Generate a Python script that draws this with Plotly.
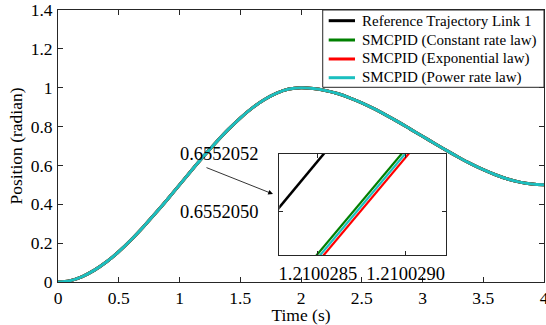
import plotly.graph_objects as go

# ---- data ----
time_s = [0.0, 0.1, 0.2, 0.3, 0.4, 0.5, 0.6, 0.7, 0.8, 0.9, 1.0,
          1.1, 1.2, 1.3, 1.4, 1.5, 1.6, 1.7, 1.8, 1.9, 2.0,
          2.1, 2.2, 2.3, 2.4, 2.5, 2.6, 2.7, 2.8, 2.9, 3.0,
          3.1, 3.2, 3.3, 3.4, 3.5, 3.6, 3.7, 3.8, 3.9, 4.0]
reference_pos = [0.0, 0.007, 0.028, 0.061, 0.104, 0.156, 0.216, 0.282, 0.352, 0.425, 0.500,
                 0.575, 0.648, 0.718, 0.784, 0.844, 0.896, 0.939, 0.972, 0.993, 1.000,
                 0.996, 0.986, 0.970, 0.948, 0.922, 0.892, 0.859, 0.824, 0.787, 0.750,
                 0.713, 0.676, 0.641, 0.608, 0.578, 0.552, 0.530, 0.514, 0.504, 0.500]
constant_pos = list(reference_pos)
exponential_pos = list(reference_pos)
power_pos = list(reference_pos)

# zoomed inset (segments read from the magnified box)
inset_ref_t = [1.21002826, 1.21002856]
inset_ref_y = [0.65520500, 0.65520522]
inset_const_t = [1.21002848, 1.21002899]
inset_const_y = [0.65520484, 0.65520521]
inset_exp_t = [1.21002852, 1.21002903]
inset_exp_y = [0.65520484, 0.65520521]
inset_pow_t = [1.21002850, 1.21002901]
inset_pow_y = [0.65520484, 0.65520521]

names = ["Reference Trajectory Link 1", "SMCPID (Constant rate law)",
         "SMCPID (Exponential law)", "SMCPID (Power rate law)"]
colors = ["#000000", "#008000", "#FF0000", "#1BBFBF"]

inset_xticks = [1.2100285, 1.2100290]
inset_yticks = [0.6552050, 0.6552052]

FONT = "Liberation Serif, Times New Roman, serif"
AX = "#262626"

fig = go.Figure()
main_series = [reference_pos, constant_pos, exponential_pos, power_pos]
for nm, col, ys in zip(names, colors, main_series):
    fig.add_trace(go.Scatter(x=time_s, y=ys, mode="lines", name=nm,
                             showlegend=False,
                             line=dict(color=col, width=3, shape="spline"),
                             xaxis="x", yaxis="y"))

inset_series = [(inset_ref_t, inset_ref_y, 2.5), (inset_const_t, inset_const_y, 2.2),
                (inset_exp_t, inset_exp_y, 2.2), (inset_pow_t, inset_pow_y, 2.2)]
order = [0, 2, 3, 1]
for i in order:
    tx, ty, w = inset_series[i]
    fig.add_trace(go.Scatter(x=tx, y=ty, mode="lines", showlegend=False,
                             line=dict(color=colors[i], width=w),
                             xaxis="x2", yaxis="y2"))

fig.update_layout(
    width=546, height=325,
    margin=dict(l=58, r=2, t=10, b=43, autoexpand=False),
    paper_bgcolor="white", plot_bgcolor="white",
    font=dict(family=FONT, size=17.5, color="#000000"),
    showlegend=False,
    xaxis=dict(domain=[0, 1], range=[0, 4], dtick=0.5, tick0=0,
               showline=True, linecolor=AX, linewidth=1, mirror="ticks",
               ticks="inside", ticklen=5, tickcolor=AX, showgrid=False,
               zeroline=False, ticklabelstandoff=0, ticklabeloverflow="allow",
               title=dict(text="Time (s)", standoff=1, font=dict(size=17.5))),
    yaxis=dict(domain=[0, 1], range=[0, 1.4], dtick=0.2, tick0=0,
               showline=True, linecolor=AX, linewidth=1, mirror="ticks",
               ticks="inside", ticklen=5, tickcolor=AX, showgrid=False,
               zeroline=False, ticklabelstandoff=1, ticklabeloverflow="allow",
               title=dict(text="Position (radian)", standoff=3, font=dict(size=17.5))),
    xaxis2=dict(domain=[0.4553, 0.7984], anchor="y2",
                range=[1.21002828, 1.21002923],
                tickvals=inset_xticks, tickformat=".7f",
                tickfont=dict(size=18.5),
                showline=True, linecolor=AX, linewidth=1, mirror="ticks",
                ticks="inside", ticklen=4, tickcolor=AX, showgrid=False,
                zeroline=False, ticklabelstandoff=2),
    yaxis2=dict(domain=[0.0993, 0.4706], anchor="x2",
                range=[0.65520485, 0.6552052],
                tickvals=inset_yticks, tickformat=".7f",
                tickfont=dict(size=18.5),
                showline=True, linecolor=AX, linewidth=1, mirror="ticks",
                ticks="inside", ticklen=4, tickcolor=AX, showgrid=False,
                zeroline=False, ticklabelstandoff=16),
)

# legend drawn as a box with sample lines and labels (layout elements)
fig.add_shape(type="rect", xref="paper", yref="paper",
              x0=0.5447, x1=1.0, y0=0.7158, y1=1.0,
              line=dict(color=AX, width=1), fillcolor="white", layer="above")
row_y = [0.9607, 0.8897, 0.8199, 0.7511]
for nm, col, ry in zip(names, colors, row_y):
    fig.add_shape(type="line", xref="paper", yref="paper",
                  x0=0.557, x1=0.6111, y0=ry, y1=ry,
                  line=dict(color=col, width=3), layer="above")
    fig.add_annotation(xref="paper", yref="paper", x=0.6214, y=ry,
                       xanchor="left", yanchor="middle", text=nm,
                       showarrow=False, font=dict(family=FONT, size=15))

fig.add_annotation(x=1.7695, y=0.4529, xref="x", yref="y",
                   ax=-68, ay=-27, text="", showarrow=True,
                   arrowhead=2, arrowsize=1.2, arrowwidth=0.8,
                   arrowcolor="#000000")

fig.write_html("out.html", config={"displayModeBar": False},
               post_script="document.body.style.margin='0';document.body.style.padding='0';")
